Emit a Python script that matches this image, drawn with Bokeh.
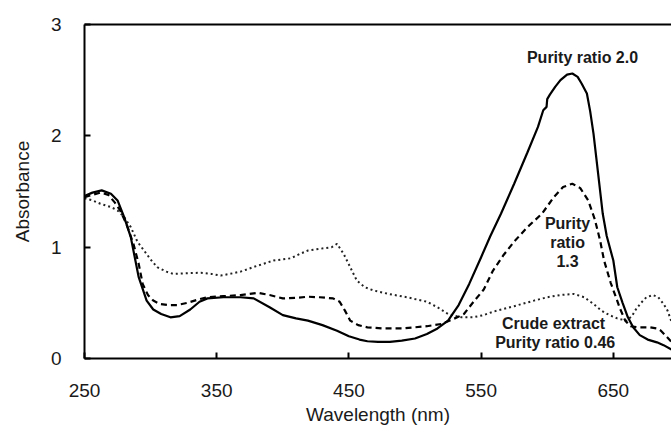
from bokeh.plotting import figure
from bokeh.models import Range1d, FixedTicker, LinearAxis, Label
from bokeh.embed import file_html
from bokeh.resources import INLINE

# ---- data ----
wl_p20 = [250, 256, 263, 270, 275, 280, 285, 291, 297, 302, 308, 315, 322, 330, 337, 343,
          355, 368, 378, 390, 400, 410, 419, 430, 441, 450, 458, 464, 472, 481, 490, 500,
          509, 517, 525, 533, 541, 550, 557, 565, 575, 585, 593, 597, 599.5, 600, 602, 606,
          610, 615, 619, 623, 626, 630, 632.5, 635, 638.5, 642, 645, 650, 653, 657, 661,
          665, 670, 676, 683, 688, 694]
abs_p20 = [1.46, 1.49, 1.51, 1.48, 1.42, 1.27, 1.09, 0.73, 0.52, 0.44, 0.40, 0.37, 0.38, 0.44,
           0.51, 0.54, 0.55, 0.55, 0.54, 0.46, 0.39, 0.36, 0.34, 0.30, 0.25, 0.20, 0.17, 0.155,
           0.15, 0.15, 0.16, 0.18, 0.22, 0.27, 0.34, 0.48, 0.67, 0.91, 1.10, 1.30, 1.57, 1.85,
           2.08, 2.23, 2.26, 2.33, 2.37, 2.44, 2.50, 2.55, 2.56, 2.53, 2.47, 2.38, 2.22, 2.02,
           1.66, 1.30, 1.10, 0.88, 0.64, 0.50, 0.37, 0.28, 0.21, 0.17, 0.145, 0.12, 0.08]

wl_p13 = [250, 256, 262, 268, 273, 277, 282, 287, 291, 294, 298, 302, 307, 313, 320, 328, 336,
          343, 355, 368, 381, 390, 400, 410, 419, 428, 438, 443, 447, 451, 457, 464, 475, 490,
          509, 520, 532, 537, 545, 552, 559, 567, 575, 585, 596, 605, 612, 619, 625, 631, 636,
          640, 643, 648, 652, 655, 659, 663, 668, 678, 683, 686, 690, 694]
abs_p13 = [1.45, 1.47, 1.49, 1.47, 1.40, 1.33, 1.20, 1.03, 0.85, 0.67, 0.57, 0.52, 0.49, 0.48,
           0.48, 0.50, 0.53, 0.55, 0.56, 0.57, 0.59, 0.57, 0.54, 0.545, 0.555, 0.55, 0.54, 0.51,
           0.43, 0.34, 0.30, 0.28, 0.27, 0.27, 0.29, 0.31, 0.37, 0.40, 0.52, 0.62, 0.79, 0.93,
           1.05, 1.18, 1.30, 1.45, 1.54, 1.57, 1.53, 1.42, 1.25, 1.06, 0.88, 0.68, 0.55, 0.45,
           0.34, 0.29, 0.28, 0.28, 0.27, 0.25, 0.20, 0.15]

wl_crude = [250, 256, 262, 270, 275, 280, 285, 290, 295, 300, 305, 312, 317, 325, 338, 346, 353,
            360, 368, 380, 393, 406, 413, 419, 431, 437, 441, 446, 451, 456, 462, 469, 480, 494,
            509, 517, 525, 535, 544, 552, 559, 575, 590, 600, 610, 620, 628, 635, 641, 647, 653,
            660, 664, 667, 671, 675, 680, 684, 688, 691, 694]
abs_crude = [1.44, 1.42, 1.39, 1.36, 1.33, 1.27, 1.18, 1.05, 0.97, 0.89, 0.82, 0.78, 0.76, 0.765,
             0.77, 0.76, 0.745, 0.76, 0.78, 0.83, 0.88, 0.90, 0.94, 0.97, 0.99, 1.00, 1.03, 0.94,
             0.82, 0.70, 0.64, 0.61, 0.58, 0.55, 0.51, 0.46, 0.40, 0.37, 0.37, 0.39, 0.42, 0.47,
             0.52, 0.55, 0.57, 0.58, 0.55, 0.49, 0.43, 0.39, 0.36, 0.34, 0.38, 0.44, 0.50, 0.55,
             0.57, 0.55, 0.49, 0.43, 0.33]

x_ticks = [250, 350, 450, 550, 650]
y_ticks = [0, 1, 2, 3]

FONT = "Liberation Sans"
TXT = "#1a1a1a"

p = figure(width=671, height=434, output_backend="svg", toolbar_location=None,
           x_range=Range1d(250, 694), y_range=Range1d(0, 3),
           min_border_left=84, min_border_right=0, min_border_top=24, min_border_bottom=76)
p.outline_line_color = None
p.xgrid.visible = False
p.ygrid.visible = False
p.background_fill_color = "white"
p.border_fill_color = "white"

# curves
p.line(wl_crude, abs_crude, line_color="#222222", line_width=2, line_dash="2 3")
p.line(wl_p13, abs_p13, line_color="black", line_width=2.2, line_dash="6 4")
p.line(wl_p20, abs_p20, line_color="black", line_width=2.2)

# axes
xa = p.xaxis[0]
xa.ticker = FixedTicker(ticks=x_ticks)
xa.axis_label = "Wavelength (nm)"
ya = p.yaxis[0]
ya.ticker = FixedTicker(ticks=y_ticks)
ya.axis_label = "Absorbance"
for ax in (xa, ya):
    ax.axis_line_width = 2
    ax.axis_line_color = "black"
    ax.major_tick_in = 6
    ax.major_tick_out = 0
    ax.major_tick_line_width = 2
    ax.minor_tick_line_color = None
    ax.major_label_text_font = FONT
    ax.major_label_text_font_size = "19px"
    ax.major_label_text_color = TXT
    ax.axis_label_text_font = FONT
    ax.axis_label_text_font_size = "19px"
    ax.axis_label_text_font_style = "normal"
    ax.axis_label_text_color = TXT
xa.major_label_standoff = 25
xa.axis_label_standoff = 4
ya.major_label_standoff = 23
ya.axis_label_standoff = 15

top = LinearAxis(ticker=FixedTicker(ticks=[]), axis_line_width=2, axis_line_color="black",
                 major_tick_out=0, major_tick_in=0, minor_tick_line_color=None,
                 major_label_text_font_size="0px")
p.add_layout(top, "above")

# annotations
def lab(x, y, t):
    p.add_layout(Label(x=x, y=y, text=t, text_font=FONT, text_font_size="16px",
                       text_font_style="bold", text_color=TXT, text_align="center",
                       text_baseline="middle"))

lab(626.7, 2.70, "Purity ratio 2.0")
lab(615.4, 1.213, "Purity")
lab(615.4, 1.042, "ratio")
lab(615.4, 0.88, "1.3")
lab(604.8, 0.314, "Crude extract")
lab(606.0, 0.144, "Purity ratio 0.46")

open("out.html", "w").write(file_html(p, INLINE))
